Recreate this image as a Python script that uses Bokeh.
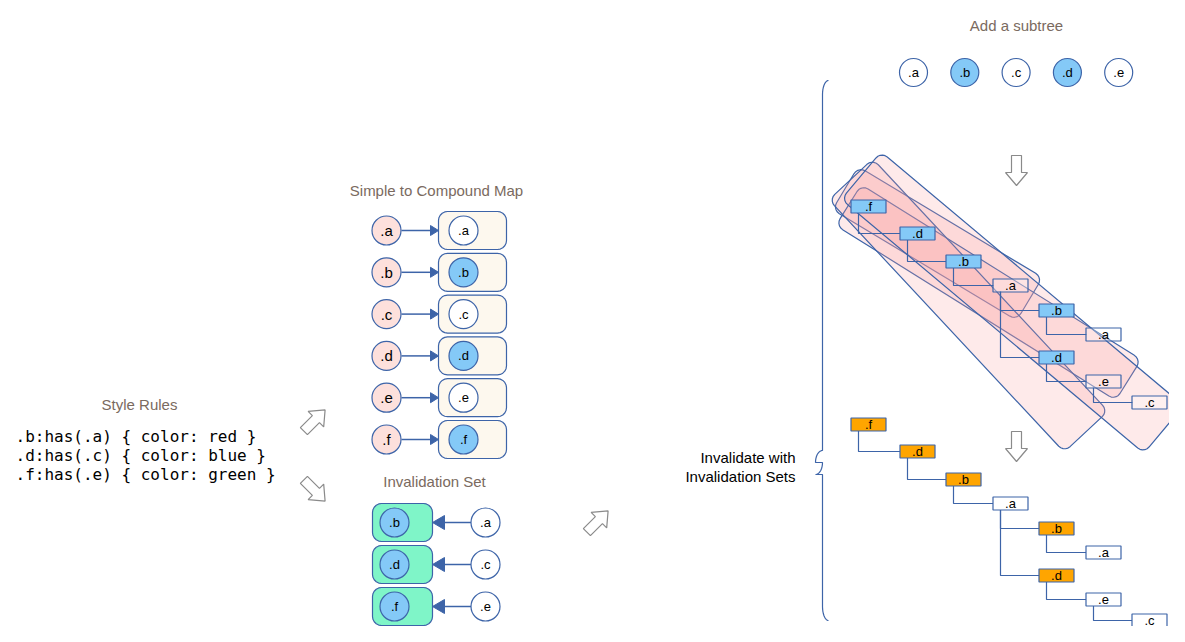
import numpy as np
from bokeh.plotting import figure
from bokeh.models import Range1d
from bokeh.core.properties import value
from bokeh.embed import file_html
from bokeh.resources import INLINE

# --- data ---
rules = [".b:has(.a) { color: red }", ".d:has(.c) { color: blue }", ".f:has(.e) { color: green }"]
simple = [".a", ".b", ".c", ".d", ".e", ".f"]
compound_hit = [False, True, False, True, False, True]
inval_keys = [".b", ".d", ".f"]
inval_from = [".a", ".c", ".e"]
subtree = [".a", ".b", ".c", ".d", ".e"]
subtree_hit = [False, True, False, True, False]
# tree: label, depth-x, row-y, parent index, invalidated
tree_labels = [".f", ".d", ".b", ".a", ".b", ".a", ".d", ".e", ".c"]
tree_x = [868, 917, 963, 1010, 1056, 1103, 1056, 1103, 1149]
tree_y = [206, 233, 261, 285, 310, 334, 357, 381, 402]
tree_parent = [None, 0, 1, 2, 3, 4, 3, 6, 7]
tree_hit = [True, True, True, False, True, False, True, False, False]
# rotated invalidation boxes: cx, cy, length, width, angle(deg)
boxes = [(937, 243, 215, 50, 31), (988, 292, 330, 48, 32), (968, 305, 345, 60, 47), (1012, 302, 395, 62, 40)]

EDGE = "#3d64a8"
BLUE = "#84c9f7"
PINK = "#fde0dc"
FONT = value("Liberation Sans")
GRAY = "#7a6a60"

p = figure(width=1169, height=626, output_backend="svg", toolbar_location=None,
           x_range=Range1d(0, 1169), y_range=Range1d(626, 0))
p.axis.visible = False
p.grid.visible = False
p.outline_line_color = None
p.min_border = 0


def label(x, y, t, size="13px", color="black", align="center", font=FONT):
    p.text([x], [y], text=[t], text_font=font, text_font_size=size, text_color=color,
           text_align=align, text_baseline="middle")


def rrect(cx, cy, w, h, r=8, ang=0.0, n=6):
    pts = []
    for sx, sy, a0 in [(1, 1, 0), (-1, 1, 90), (-1, -1, 180), (1, -1, 270)]:
        ccx, ccy = sx * (w / 2 - r), sy * (h / 2 - r)
        for t in np.linspace(a0, a0 + 90, n):
            pts.append((ccx + r * np.cos(np.radians(t)), ccy + r * np.sin(np.radians(t))))
    pts = np.array(pts)
    c, s = np.cos(np.radians(ang)), np.sin(np.radians(ang))
    xs = cx + pts[:, 0] * c - pts[:, 1] * s
    ys = cy + pts[:, 0] * s + pts[:, 1] * c
    return list(xs), list(ys)


def hollow_arrow(x, y, ang):
    loc = np.array([(-15, -5), (2, -5), (2, -11), (15, 0), (2, 11), (2, 5), (-15, 5)])
    c, s = np.cos(np.radians(ang)), np.sin(np.radians(ang))
    xs = x + loc[:, 0] * c - loc[:, 1] * s
    ys = y + loc[:, 0] * s + loc[:, 1] * c
    p.patch(list(xs), list(ys), fill_color="white", line_color="#8a8a8a", line_width=1.2)


def circ(x, y, fill, r=14.5):
    p.circle([x], [y], radius=r, fill_color=fill, line_color=EDGE, line_width=1.2)


# style rules
label(139, 404, "Style Rules", "15px", GRAY)
for i, r in enumerate(rules):
    label(15, 436 + 19 * i, r, "16px", "black", "left", value("DejaVu Sans Mono"))

hollow_arrow(314, 420, -45)
hollow_arrow(314, 490, 45)
hollow_arrow(597, 521, -45)
hollow_arrow(1016, 170, 90)
hollow_arrow(1016, 446, 90)

# simple to compound map
label(436, 190, "Simple to Compound Map", "15px", GRAY)
for i, s in enumerate(simple):
    y = 230 + 41.8 * i
    p.segment([401], [y], [430], [y], line_color=EDGE, line_width=1.5)
    p.patch([430, 438, 430], [y - 5, y, y + 5], fill_color=EDGE, line_color=EDGE)
    circ(386, y, PINK)
    label(386, y, s, "15px")
    xs, ys = rrect(472, y, 68, 38, 9)
    p.patch(xs, ys, fill_color="#fdf8ee", line_color=EDGE, line_width=1.2)
    circ(463, y, BLUE if compound_hit[i] else "white")
    label(463, y, s)

# invalidation set
label(434, 481, "Invalidation Set", "15px", GRAY)
for i, (k, f) in enumerate(zip(inval_keys, inval_from)):
    y = 522 + 42 * i
    xs, ys = rrect(402, y, 60, 38, 9)
    p.patch(xs, ys, fill_color="#7ff5c8", line_color=EDGE, line_width=1.2)
    circ(394, y, BLUE)
    label(394, y, k)
    p.segment([443], [y], [471], [y], line_color=EDGE, line_width=1.5)
    p.patch([432, 444, 444], [y, y - 7, y + 7], fill_color=EDGE, line_color=EDGE)
    circ(485, y, "white")
    label(485, y, f)

# brace + label
t = np.linspace(0, np.pi / 2, 10)
bx = list(828 - 6 * np.sin(t)) + [822, 822] + list(822 - 7 * np.sin(t)) + list(815 + 7 * np.cos(t)) + [822, 822] + list(822 + 6 * (1 - np.cos(t)))
by = list(80 + 14 * (1 - np.cos(t))) + [94, 450] + list(450 + 12 * (1 - np.cos(t))) + list(462 + 12 * np.sin(t)) + [474, 606] + list(606 + 14 * np.sin(t))
p.line(bx, by, line_color=EDGE, line_width=1.2)
label(795, 457, "Invalidate with", "15px", "black", "right")
label(795, 476, "Invalidation Sets", "15px", "black", "right")

# add a subtree
label(1016, 25, "Add a subtree", "15px", GRAY)
for i, (s, h) in enumerate(zip(subtree, subtree_hit)):
    x = 913 + 51.3 * i
    circ(x, 72, BLUE if h else "white", 14)
    label(x, 72, s)

# rotated boxes
for cx, cy, L, W, a in boxes:
    xs, ys = rrect(cx, cy, L, W, 8, a)
    p.patch(xs, ys, fill_color="#f9a0a0", fill_alpha=0.22, line_color=EDGE, line_width=1.2)


def draw_tree(dy, hit_color, box_alpha):
    for i, par in enumerate(tree_parent):
        if par is None:
            continue
        px, cy = tree_x[par] - 10, tree_y[i] + dy
        p.line([px, px, tree_x[i] - 17], [tree_y[par] + dy + 6, cy, cy], line_color=EDGE, line_width=1.2)
    for i, lab in enumerate(tree_labels):
        x, y = tree_x[i], tree_y[i] + dy
        fill = hit_color if tree_hit[i] else "white"
        alpha = 1.0 if tree_hit[i] else box_alpha
        p.rect([x], [y], width=35, height=13, fill_color=fill, fill_alpha=alpha, line_color=EDGE, line_width=1.2)
        label(x, y, lab, "13px")


draw_tree(0, BLUE, 0.3)
draw_tree(218, "#ffa500", 1.0)

open("out.html", "w").write(file_html(p, INLINE))
